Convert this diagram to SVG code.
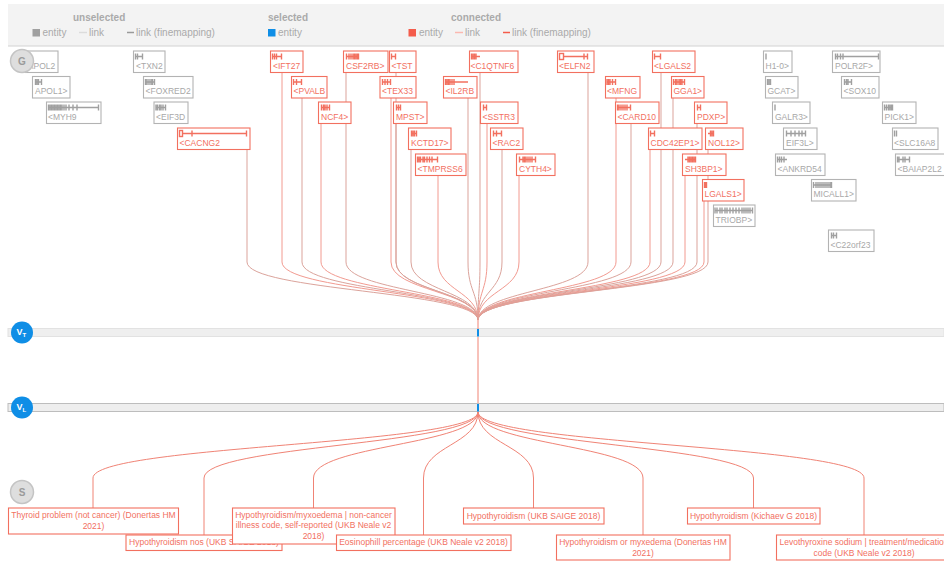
<svg xmlns="http://www.w3.org/2000/svg" width="944" height="563" viewBox="0 0 944 563">
<style>
text{font-family:"Liberation Sans",Arial,sans-serif;font-size:8.5px}
.bx{fill:#fff;stroke-width:1.1}
.r .bx{stroke:#f2705f}.r text{fill:#f2705f}.r .gl{stroke:#f2705f}
.u .bx{stroke:#b3b3b3}.u text{fill:#a8a8a8}.u .gl{stroke:#a0a0a0}
.gl{fill:none;stroke-width:1.4}
.c1{fill:none;stroke:#dba39b;stroke-width:1}
.c2{fill:none;stroke:#f29a90;stroke-width:1}
.tl{fill:none;stroke:#f08375;stroke-width:1}
.tr .bx{stroke:#f2705f}.tr text{fill:#f2705f;text-anchor:middle}
.lg{font-size:10px;fill:#aaa}
.lh{font-size:10px;fill:#aaa;font-weight:bold}
.ci{fill:#dedede;stroke:#c4c4c4;stroke-width:1.5}
.ct{font-size:10px;font-weight:bold;fill:#9a9a9a;text-anchor:middle}
.vc{fill:#0f8ee6}
.vt{font-size:9px;font-weight:bold;fill:#fff}
</style>

<g id="legend">
<rect x="8" y="4" width="936" height="42" fill="#f3f3f3"/>
<line x1="8" y1="46" x2="944" y2="46" stroke="#d2d2d2" stroke-width="1"/>
<text class="lh" x="73" y="21">unselected</text>
<rect x="32.5" y="29" width="7.5" height="7.5" fill="#a0a0a0"/>
<text class="lg" x="42.5" y="36">entity</text>
<line x1="79" y1="32.5" x2="87" y2="32.5" stroke="#dcdcdc" stroke-width="1.5"/>
<text class="lg" x="89" y="36">link</text>
<line x1="127" y1="32.5" x2="134" y2="32.5" stroke="#9a9a9a" stroke-width="1.5"/>
<text class="lg" x="136" y="36">link (finemapping)</text>
<text class="lh" x="268" y="21">selected</text>
<rect x="268" y="29" width="7.5" height="7.5" fill="#0f8ee6"/>
<text class="lg" x="278" y="36">entity</text>
<text class="lh" x="451" y="21">connected</text>
<rect x="408.5" y="29" width="7.5" height="7.5" fill="#f45c4b"/>
<text class="lg" x="419" y="36">entity</text>
<line x1="455" y1="32.5" x2="463" y2="32.5" stroke="#fbb8b0" stroke-width="1.5"/>
<text class="lg" x="465" y="36">link</text>
<line x1="503" y1="32.5" x2="510" y2="32.5" stroke="#f45c4b" stroke-width="1.5"/>
<text class="lg" x="512" y="36">link (finemapping)</text>
</g>

<g id="tracks">
<rect x="8" y="328.5" width="936" height="8" fill="#efefef" stroke="#e2e2e2" stroke-width="1"/>
<rect x="8" y="403.5" width="936" height="8" fill="#eeeeee" stroke="#bdbdbd" stroke-width="1"/>
</g>

<g id="connectors">
<path class="c1" d="M247 149.5V262C247 291 478 291 478 320"/>
<path class="c2" d="M282 72.5V262C282 291 478 291 478 320"/>
<path class="c1" d="M302 98V262C302 291 478 291 478 320"/>
<path class="c2" d="M321 123.5V262C321 291 478 291 478 320"/>
<path class="c1" d="M346 72.5V262C346 291 478 291 478 320"/>
<path class="c2" d="M391 98V262C391 291 478 291 478 320"/>
<path class="c1" d="M396 72.5V262C396 291 478 291 478 320"/>
<path class="c1" d="M396 123.5V262C396 291 478 291 478 320"/>
<path class="c1" d="M411 149.5V262C411 291 478 291 478 320"/>
<path class="c2" d="M438 175.5V262C438 291 478 291 478 320"/>
<path class="c1" d="M468 98V262C468 291 478 291 478 320"/>
<path class="c1" d="M480 72.5V262C480 291 478 291 478 320"/>
<path class="c2" d="M487 123.5V262C487 291 478 291 478 320"/>
<path class="c1" d="M502 149.5V262C502 291 478 291 478 320"/>
<path class="c2" d="M519 175.5V262C519 291 478 291 478 320"/>
<path class="c1" d="M588 72.5V262C588 291 478 291 478 320"/>
<path class="c2" d="M616 98V262C616 291 478 291 478 320"/>
<path class="c1" d="M631 123.5V262C631 291 478 291 478 320"/>
<path class="c2" d="M650 149.5V262C650 291 478 291 478 320"/>
<path class="c1" d="M661 72.5V262C661 291 478 291 478 320"/>
<path class="c1" d="M673 98V262C673 291 478 291 478 320"/>
<path class="c2" d="M685 175.5V262C685 291 478 291 478 320"/>
<path class="c1" d="M697 123.5V262C697 291 478 291 478 320"/>
<path class="c2" d="M704 201V262C704 291 478 291 478 320"/>
<path class="c1" d="M708 149.5V262C708 291 478 291 478 320"/>
<path class="tl" d="M478 320V329"/>
<path class="tl" d="M478 337V403"/>
<path class="tl" d="M478 412C478 445 93 445 93 478V508"/>
<path class="tl" d="M478 412C478 445 204 445 204 478V535"/>
<path class="tl" d="M478 412C478 445 313.5 445 313.5 478V508"/>
<path class="tl" d="M478 412C478 445 423.5 445 423.5 478V535"/>
<path class="tl" d="M478 412C478 445 533.5 445 533.5 478V508"/>
<path class="tl" d="M478 412C478 445 643 445 643 478V535"/>
<path class="tl" d="M478 412C478 445 753.5 445 753.5 478V508" stroke="#f3a49a"/>
<path class="tl" d="M478 412C478 445 864 445 864 478V535"/>
</g>

<g id="selected-marks">
<rect x="477" y="329" width="2" height="7.5" fill="#0f8ee6"/>
<rect x="477" y="404" width="2" height="7.5" fill="#0f8ee6"/>
</g>

<!-- gene nodes row 1 -->
<g id="n-APOL2" class="u"><rect class="bx" x="25.5" y="51" width="32.5" height="21.5"/><text x="27.8" y="68.7">APOL2</text></g>
<g id="n-TXN2" class="u"><rect class="bx" x="133.5" y="51" width="31.5" height="21.5"/><path class="gl" d="M135 56.5h8M135.5 53.5v6M137.5 53.5v6M142.5 53.5v6"/><text x="136" y="68.7">&lt;TXN2</text></g>
<g id="n-IFT27" class="r"><rect class="bx" x="270.5" y="51" width="32.5" height="21.5"/><path class="gl" d="M272 56.5h10M272.5 53.5v6M274.5 53.5v6M276.5 53.5v6M281.5 53.5v6"/><text x="273" y="68.7">&lt;IFT27</text></g>
<g id="n-CSF2RB" class="r"><rect class="bx" x="343.5" y="51" width="44.5" height="21.5"/><path class="gl" d="M346 56.5h13M346.5 53.5v6M349 53.5v6M351 53.5v6M353 53.5v6M354.5 53.5v6M356 53.5v6M357.5 53.5v6M358.5 53.5v6"/><text x="346" y="68.7">CSF2RB&gt;</text></g>
<g id="n-TST" class="r"><rect class="bx" x="389.5" y="51" width="26.5" height="21.5"/><path class="gl" d="M391 56.5h5M391.5 53.5v6M395.5 53.5v6"/><text x="391.5" y="68.7">&lt;TST</text></g>
<g id="n-C1QTNF6" class="r"><rect class="bx" x="469.5" y="51" width="48.5" height="21.5"/><path class="gl" d="M471 56.5h9M471.5 53.5v6M473 53.5v6M474.5 53.5v6M476 53.5v6"/><text x="470.5" y="68.7">&lt;C1QTNF6</text></g>
<g id="n-ELFN2" class="r"><rect class="bx" x="557.5" y="51" width="36.5" height="21.5"/><rect class="gl" x="559.5" y="53.5" width="4" height="6" stroke-width="1"/><path class="gl" d="M563.5 56.5H588M584 53.5v6M587.5 53.5v6"/><text x="559" y="68.7">&lt;ELFN2</text></g>
<g id="n-LGALS2" class="r"><rect class="bx" x="652.5" y="51" width="42.5" height="21.5"/><path class="gl" d="M654 56.5h7M654.5 53.5v6M660.5 53.5v6"/><text x="654" y="68.7">&lt;LGALS2</text></g>
<g id="n-H1-0" class="u"><rect class="bx" x="763.5" y="51" width="28.5" height="21.5"/><path class="gl" d="M766 53.5v6"/><text x="765.5" y="68.7">H1-0&gt;</text></g>
<g id="n-POLR2F" class="u"><rect class="bx" x="832.5" y="51" width="47.5" height="21.5"/><path class="gl" d="M835 56.5H879M835.5 53.5v6M837.5 53.5v6M840.5 53.5v6M843 53.5v6M878.5 53.5v6"/><text x="835" y="68.7">POLR2F&gt;</text></g>

<!-- row 2 -->
<g id="n-APOL1" class="u"><rect class="bx" x="32.5" y="76.5" width="37.5" height="21.5"/><path class="gl" d="M35 82h7M35.5 79v6M37 79v6M38.5 79v6M41.5 79v6"/><text x="35" y="94.2">APOL1&gt;</text></g>
<g id="n-FOXRED2" class="u"><rect class="bx" x="143.5" y="76.5" width="49.5" height="21.5"/><path class="gl" d="M145 82h10M145.5 79v6M147 79v6M149 79v6M151 79v6M152.5 79v6M154.5 79v6"/><text x="145.5" y="94.2">&lt;FOXRED2</text></g>
<g id="n-PVALB" class="r"><rect class="bx" x="291.5" y="76.5" width="35.5" height="21.5"/><path class="gl" d="M293 82h9M293.5 79v6M296.5 79v6M301.5 79v6"/><text x="293.5" y="94.2">&lt;PVALB</text></g>
<g id="n-TEX33" class="r"><rect class="bx" x="380" y="76.5" width="36" height="21.5"/><path class="gl" d="M382 82h9M382.5 79v6M385 79v6M387.5 79v6M390.5 79v6"/><text x="382" y="94.2">&lt;TEX33</text></g>
<g id="n-IL2RB" class="r"><rect class="bx" x="443.5" y="76.5" width="33.5" height="21.5"/><path class="gl" d="M445 82h23M445.5 79v6M447 79v6M448.5 79v6M450 79v6M452 79v6M454 79v6"/><text x="445.5" y="94.2">&lt;IL2RB</text></g>
<g id="n-MFNG" class="r"><rect class="bx" x="605.5" y="76.5" width="34.5" height="21.5"/><path class="gl" d="M606.5 82h9.5M607 79v6M608.5 79v6M610 79v6M612.5 79v6M615.5 79v6"/><text x="607" y="94.2">&lt;MFNG</text></g>
<g id="n-GGA1" class="r"><rect class="bx" x="671.5" y="76.5" width="32.5" height="21.5"/><path class="gl" d="M673 82h12M673.5 79v6M675.5 79v6M677 79v6M679 79v6M680.5 79v6M682 79v6M684.5 79v6"/><text x="673.5" y="94.2">GGA1&gt;</text></g>
<g id="n-GCAT" class="u"><rect class="bx" x="765.5" y="76.5" width="32.5" height="21.5"/><path class="gl" d="M767.5 79v6M769 79v6M770.5 79v6"/><text x="767.5" y="94.2">GCAT&gt;</text></g>
<g id="n-SOX10" class="u"><rect class="bx" x="841.5" y="76.5" width="37.5" height="21.5"/><path class="gl" d="M844 82h8M844.5 79v6M846.5 79v6M848 79v6M851.5 79v6"/><text x="843.5" y="94.2">&lt;SOX10</text></g>

<!-- row 3 -->
<g id="n-MYH9" class="u"><rect class="bx" x="46.5" y="102" width="54.5" height="21.5"/><path class="gl" d="M48 107.5H99M48.5 104.5v6M50 104.5v6M51.5 104.5v6M53 104.5v6M54.5 104.5v6M56 104.5v6M57.5 104.5v6M59 104.5v6M60.5 104.5v6M62 104.5v6M64 104.5v6M66 104.5v6M69 104.5v6M73 104.5v6M77 104.5v6M98.5 104.5v6"/><text x="48" y="119.7">&lt;MYH9</text></g>
<g id="n-EIF3D" class="u"><rect class="bx" x="154" y="102" width="34" height="21.5"/><path class="gl" d="M155.5 107.5h10M156 104.5v6M157.5 104.5v6M159.5 104.5v6M161 104.5v6M163 104.5v6M165.5 104.5v6"/><text x="156" y="119.7">&lt;EIF3D</text></g>
<g id="n-NCF4" class="r"><rect class="bx" x="318.5" y="102" width="32.5" height="21.5"/><path class="gl" d="M321 107.5h9M321.5 104.5v6M323.5 104.5v6M325 104.5v6M327 104.5v6M329.5 104.5v6"/><text x="321" y="119.7">NCF4&gt;</text></g>
<g id="n-MPST" class="r"><rect class="bx" x="393.5" y="102" width="33.5" height="21.5"/><path class="gl" d="M396 107.5h5M396.5 104.5v6M398.5 104.5v6M400.5 104.5v6"/><text x="396" y="119.7">MPST&gt;</text></g>
<g id="n-SSTR3" class="r"><rect class="bx" x="480.5" y="102" width="37.5" height="21.5"/><path class="gl" d="M483 107.5h4M483.5 104.5v6M486.5 104.5v6"/><text x="482.5" y="119.7">&lt;SSTR3</text></g>
<g id="n-CARD10" class="r"><rect class="bx" x="615.5" y="102" width="43.5" height="21.5"/><path class="gl" d="M617 107.5h14M617.5 104.5v6M619 104.5v6M621 104.5v6M623 104.5v6M625 104.5v6M627 104.5v6M630.5 104.5v6"/><text x="617.5" y="119.7">&lt;CARD10</text></g>
<g id="n-PDXP" class="r"><rect class="bx" x="694.5" y="102" width="32.5" height="21.5"/><path class="gl" d="M697 107.5h4M697.5 104.5v6M700.5 104.5v6"/><text x="697" y="119.7">PDXP&gt;</text></g>
<g id="n-GALR3" class="u"><rect class="bx" x="772.5" y="102" width="37.5" height="21.5"/><path class="gl" d="M775 104.5v6"/><text x="775" y="119.7">GALR3&gt;</text></g>
<g id="n-PICK1" class="u"><rect class="bx" x="882.5" y="102" width="33.5" height="21.5"/><path class="gl" d="M884 107.5h9M884.5 104.5v6M886.5 104.5v6M888.5 104.5v6M890 104.5v6M891.5 104.5v6M892.5 104.5v6"/><text x="884.5" y="119.7">PICK1&gt;</text></g>

<!-- row 4 -->
<g id="n-CACNG2" class="r"><rect class="bx" x="177.5" y="128" width="72.5" height="21.5"/><rect class="gl" x="179.5" y="130.5" width="3" height="6" stroke-width="1"/><path class="gl" d="M182.5 133.5H247M192 130.5v6M246.5 130.5v6" stroke-width="1"/><text x="179.5" y="145.7">&lt;CACNG2</text></g>
<g id="n-KCTD17" class="r"><rect class="bx" x="408.5" y="128" width="42.5" height="21.5"/><path class="gl" d="M411 133.5h6M411.5 130.5v6M413 130.5v6M414.5 130.5v6M416.5 130.5v6"/><text x="411" y="145.7">KCTD17&gt;</text></g>
<g id="n-RAC2" class="r"><rect class="bx" x="490.5" y="128" width="32.5" height="21.5"/><path class="gl" d="M493 133.5h9M493.5 130.5v6M496.5 130.5v6M501.5 130.5v6"/><text x="492.5" y="145.7">&lt;RAC2</text></g>
<g id="n-CDC42EP1" class="r"><rect class="bx" x="648.5" y="128" width="53.5" height="21.5"/><path class="gl" d="M650 133.5h5M650.5 130.5v6M654.5 130.5v6"/><text x="650.5" y="145.7">CDC42EP1&gt;</text></g>
<g id="n-NOL12" class="r"><rect class="bx" x="705.5" y="128" width="37.5" height="21.5"/><path class="gl" d="M708 133.5h6M710.5 130.5v6M712 130.5v6M713.5 130.5v6"/><text x="708" y="145.7">NOL12&gt;</text></g>
<g id="n-EIF3L" class="u"><rect class="bx" x="783.5" y="128" width="33.5" height="21.5"/><path class="gl" d="M786 133.5h20M786.5 130.5v6M791 130.5v6M795 130.5v6M799 130.5v6M802 130.5v6M805.5 130.5v6"/><text x="786" y="145.7">EIF3L&gt;</text></g>
<g id="n-SLC16A8" class="u"><rect class="bx" x="892.5" y="128" width="45.5" height="21.5"/><path class="gl" d="M894.5 130.5v6M896.5 130.5v6"/><text x="894" y="145.7">&lt;SLC16A8</text></g>

<!-- row 5 -->
<g id="n-TMPRSS6" class="r"><rect class="bx" x="415.5" y="154" width="50.5" height="21.5"/><path class="gl" d="M417 159.5h21M417.5 156.5v6M419 156.5v6M420.5 156.5v6M423 156.5v6M424.5 156.5v6M427 156.5v6M429.5 156.5v6M432 156.5v6M437.5 156.5v6"/><text x="417.5" y="171.7">&lt;TMPRSS6</text></g>
<g id="n-CYTH4" class="r"><rect class="bx" x="516.5" y="154" width="38.5" height="21.5"/><path class="gl" d="M519 159.5h17M519.5 156.5v6M523 156.5v6M524.5 156.5v6M526 156.5v6M528 156.5v6M530 156.5v6M532 156.5v6M535.5 156.5v6"/><text x="519" y="171.7">CYTH4&gt;</text></g>
<g id="n-SH3BP1" class="r"><rect class="bx" x="682.5" y="154" width="43.5" height="21.5"/><path class="gl" d="M685 159.5h11M688 156.5v6M689.5 156.5v6M691 156.5v6M692.5 156.5v6M694 156.5v6M695.5 156.5v6"/><text x="685" y="171.7">SH3BP1&gt;</text></g>
<g id="n-ANKRD54" class="u"><rect class="bx" x="775.5" y="154" width="49.5" height="21.5"/><path class="gl" d="M777 159.5h10M777.5 156.5v6M779.5 156.5v6M781.5 156.5v6M784 156.5v6"/><text x="777.5" y="171.7">&lt;ANKRD54</text></g>
<g id="n-BAIAP2L2" class="u"><rect class="bx" x="895.5" y="154" width="55" height="21.5"/><path class="gl" d="M897 159.5h13M897.5 156.5v6M899 156.5v6M903 156.5v6M905 156.5v6M909.5 156.5v6"/><text x="897.5" y="171.7">&lt;BAIAP2L2</text></g>

<!-- row 6-8 -->
<g id="n-LGALS1" class="r"><rect class="bx" x="702.5" y="179.5" width="41.5" height="21.5"/><path class="gl" d="M704.5 182v6M705.5 182v6M706.5 182v6"/><text x="704.5" y="197.2">LGALS1&gt;</text></g>
<g id="n-MICALL1" class="u"><rect class="bx" x="811.5" y="179.5" width="44.5" height="21.5"/><path class="gl" d="M813 185h19M813.5 182v6M816 182v6M818 182v6M820 182v6M822 182v6M824 182v6M826 182v6M828 182v6M830 182v6M831.5 182v6"/><text x="813.5" y="197.2">MICALL1&gt;</text></g>
<g id="n-TRIOBP" class="u"><rect class="bx" x="713.5" y="205" width="41.5" height="21.5"/><path class="gl" d="M714.5 210.5h38.5M715 207.5v6M717 207.5v6M720 207.5v6M722 207.5v6M725 207.5v6M727 207.5v6M730 207.5v6M733 207.5v6M736 207.5v6M739 207.5v6M742 207.5v6M744 207.5v6M746 207.5v6M748 207.5v6M750 207.5v6M752.5 207.5v6"/><text x="715.5" y="222.7">TRIOBP&gt;</text></g>
<g id="n-C22orf23" class="u"><rect class="bx" x="828.5" y="230" width="45.5" height="21.5"/><path class="gl" d="M831 235.5h6M831.5 232.5v6M833.5 232.5v6M836.5 232.5v6"/><text x="830.5" y="247.7">&lt;C22orf23</text></g>

<!-- trait nodes -->
<g id="t-thyroid" class="tr"><rect class="bx" x="8.5" y="508" width="170" height="26"/><text x="93.5" y="517.5">Thyroid problem (not cancer) (Donertas HM</text><text x="93.5" y="528.5">2021)</text></g>
<g id="t-nos" class="tr"><rect class="bx" x="126" y="535" width="156" height="15.5"/><text x="204" y="545">Hypothyroidism nos (UKB SAIGE 2018)</text></g>
<g id="t-myx" class="tr"><rect class="bx" x="232.5" y="508" width="162.5" height="36"/><text x="313.5" y="517.5">Hypothyroidism/myxoedema | non-cancer</text><text x="313.5" y="528">illness code, self-reported (UKB Neale v2</text><text x="313.5" y="538.5">2018)</text></g>
<g id="t-eos" class="tr"><rect class="bx" x="336.5" y="535" width="174.5" height="15.5"/><text x="423.5" y="545">Eosinophill percentage (UKB Neale v2 2018)</text></g>
<g id="t-saige" class="tr"><rect class="bx" x="463.5" y="508" width="140.5" height="16"/><text x="533.5" y="518.5">Hypothyroidism (UKB SAIGE 2018)</text></g>
<g id="t-myxedema" class="tr"><rect class="bx" x="556.5" y="535" width="173.5" height="25"/><text x="643" y="544.5">Hypothyroidism or myxedema (Donertas HM</text><text x="643" y="555.5">2021)</text></g>
<g id="t-kichaev" class="tr"><rect class="bx" x="687.5" y="508" width="132.5" height="16"/><text x="753.5" y="518.5">Hypothyroidism (Kichaev G 2018)</text></g>
<g id="t-levo" class="tr"><rect class="bx" x="776.5" y="535" width="176" height="25"/><text x="864" y="544.5">Levothyroxine sodium | treatment/medication</text><text x="864" y="555.5">code (UKB Neale v2 2018)</text></g>

<!-- layer badges -->
<g id="badge-G"><circle class="ci" cx="22" cy="61" r="11.5"/><text class="ct" x="22" y="64.5">G</text></g>
<g id="badge-VT"><circle class="vc" cx="22" cy="332.5" r="11"/><text class="vt" x="16.5" y="334.5">V<tspan font-size="6" dy="2.5">T</tspan></text></g>
<g id="badge-VL"><circle class="vc" cx="22" cy="407.5" r="11"/><text class="vt" x="16.5" y="409.5">V<tspan font-size="6" dy="2.5">L</tspan></text></g>
<g id="badge-S"><circle class="ci" cx="22" cy="492" r="11.5"/><text class="ct" x="22" y="495.5">S</text></g>
</svg>
